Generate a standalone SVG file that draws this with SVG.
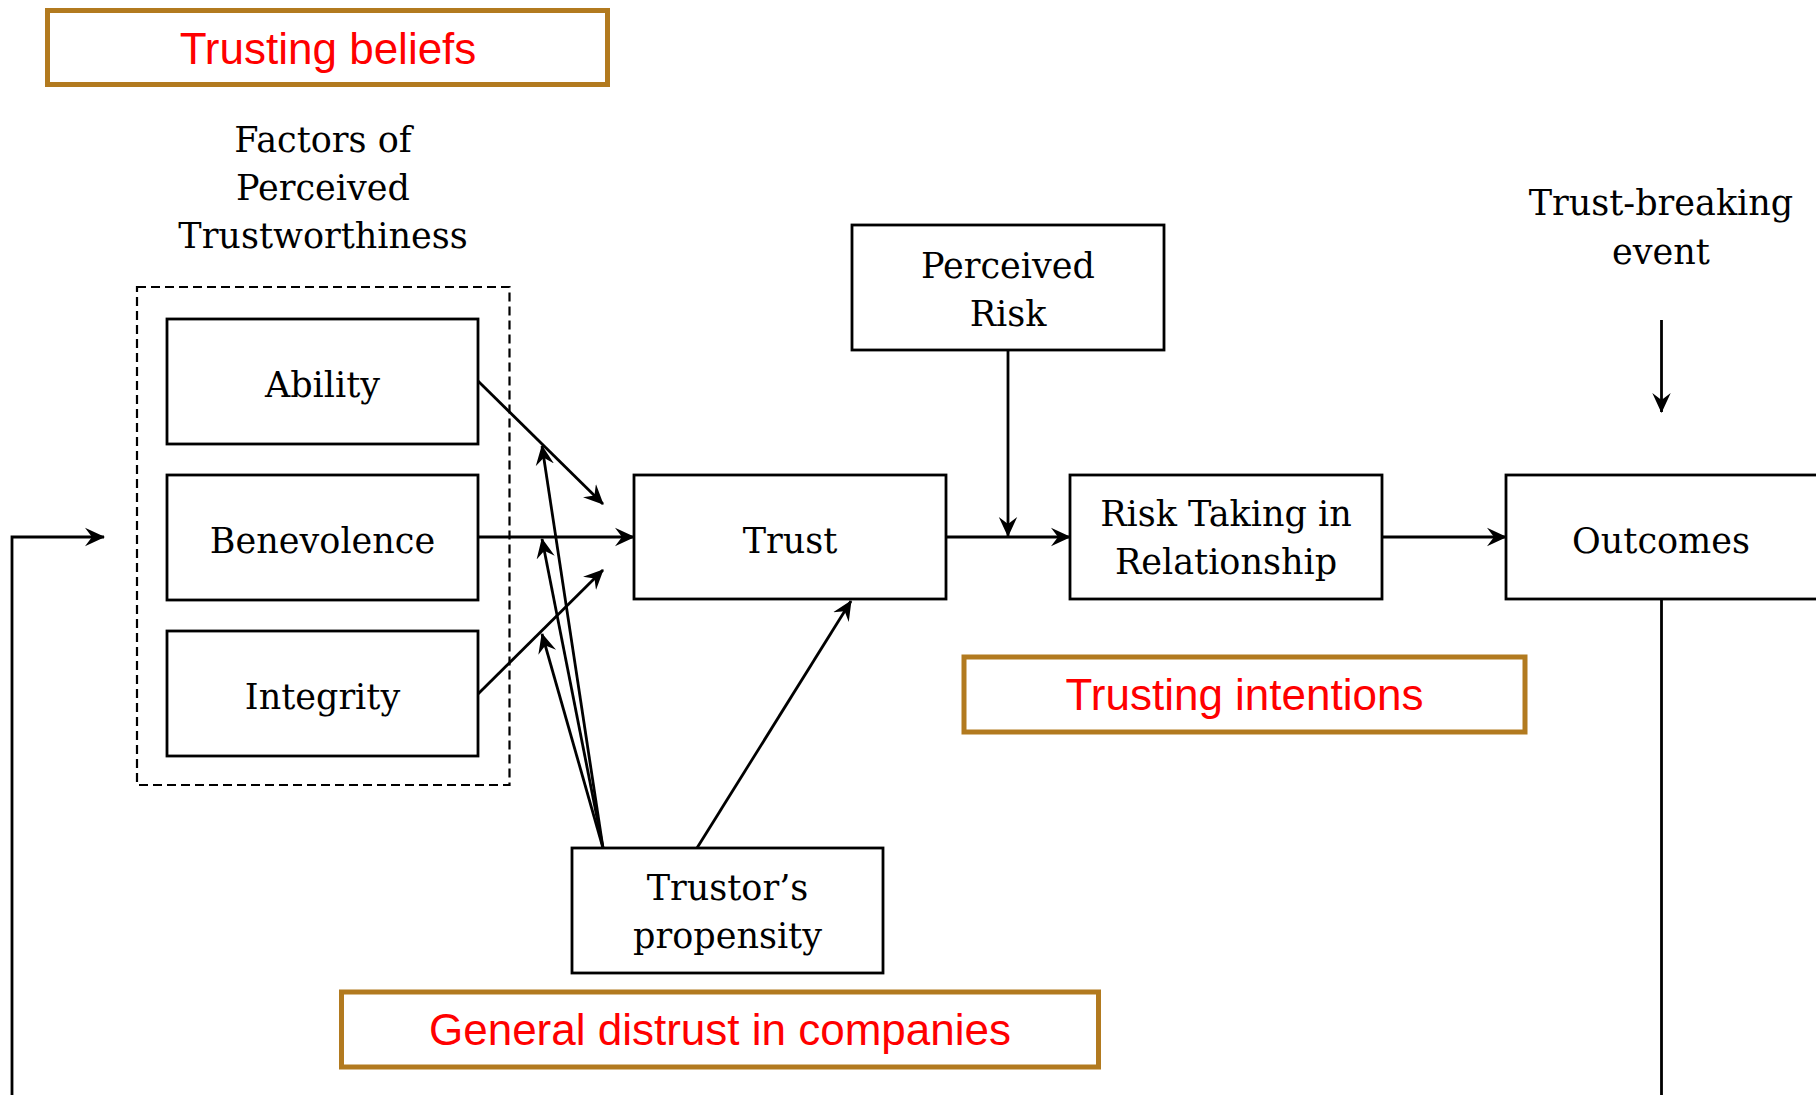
<svg xmlns="http://www.w3.org/2000/svg" width="1816" height="1095" viewBox="0 0 1816 1095">
<style>
.box{fill:#fff;stroke:#000;stroke-width:2.8}
.lbl{font-family:"DejaVu Serif","Liberation Serif",serif;font-size:35px;fill:#000;text-anchor:middle}
.rbox{fill:#fff;stroke:#B27A1F;stroke-width:5}
.rlbl{font-family:"Liberation Sans",Arial,sans-serif;font-size:44px;fill:#FF0000;text-anchor:middle}
.con{fill:none;stroke:#000;stroke-width:2.8}
</style>
<defs>
<marker id="ah" markerUnits="userSpaceOnUse" viewBox="0 0 20 20" refX="19" refY="10" markerWidth="20" markerHeight="20" orient="auto">
<path d="M0,0.8 L20,10 L0,19.2 L7,10 z" fill="#000"/>
</marker>
</defs>
<rect width="1816" height="1095" fill="#fff"/>

<g id="trusting-beliefs">
<rect class="rbox" x="47.5" y="10.5" width="560" height="74"/>
<text class="rlbl" x="328" y="64">Trusting beliefs</text>
</g>

<g id="factors-title">
<text class="lbl" x="323" y="152">Factors of</text>
<text class="lbl" x="323" y="200">Perceived</text>
<text class="lbl" x="323" y="248">Trustworthiness</text>
</g>

<g id="factors-group">
<rect x="137" y="287" width="372.5" height="498" fill="none" stroke="#000" stroke-width="2.2" stroke-dasharray="9 5"/>
</g>

<g id="ability">
<rect class="box" x="167" y="319" width="311" height="125"/>
<text class="lbl" x="322.5" y="396.5">Ability</text>
</g>
<g id="benevolence">
<rect class="box" x="167" y="475" width="311" height="125"/>
<text class="lbl" x="322.5" y="552.5">Benevolence</text>
</g>
<g id="integrity">
<rect class="box" x="167" y="631" width="311" height="125"/>
<text class="lbl" x="322.5" y="708.5">Integrity</text>
</g>

<g id="trust">
<rect class="box" x="634" y="475" width="312" height="124"/>
<text class="lbl" x="790" y="552.5">Trust</text>
</g>

<g id="perceived-risk">
<rect class="box" x="852" y="225" width="312" height="125"/>
<text class="lbl" x="1008" y="278">Perceived</text>
<text class="lbl" x="1008" y="326">Risk</text>
</g>

<g id="risk-taking">
<rect class="box" x="1070" y="475" width="312" height="124"/>
<text class="lbl" x="1226" y="526">Risk Taking in</text>
<text class="lbl" x="1226" y="574">Relationship</text>
</g>

<g id="outcomes">
<rect class="box" x="1506" y="475" width="312" height="124"/>
<text class="lbl" x="1661" y="552.5">Outcomes</text>
</g>

<g id="trust-breaking-event">
<text class="lbl" x="1661" y="215">Trust-breaking</text>
<text class="lbl" x="1661" y="264">event</text>
</g>

<g id="trustors-propensity">
<rect class="box" x="572" y="848" width="311" height="125"/>
<text class="lbl" x="727.5" y="900">Trustor’s</text>
<text class="lbl" x="727.5" y="948">propensity</text>
</g>

<g id="trusting-intentions">
<rect class="rbox" x="964" y="657" width="561" height="75"/>
<text class="rlbl" x="1244.5" y="710">Trusting intentions</text>
</g>

<g id="general-distrust">
<rect class="rbox" x="341.5" y="992" width="757" height="75"/>
<text class="rlbl" x="720" y="1045">General distrust in companies</text>
</g>

<g id="connectors">
<path class="con" d="M478,381 L603,504" marker-end="url(#ah)"/>
<path class="con" d="M478,537 L634,537" marker-end="url(#ah)"/>
<path class="con" d="M478,694 L603,570" marker-end="url(#ah)"/>
<path class="con" d="M603,848 L542,446" marker-end="url(#ah)"/>
<path class="con" d="M603,848 L542,539" marker-end="url(#ah)"/>
<path class="con" d="M603,848 L542,634" marker-end="url(#ah)"/>
<path class="con" d="M697,848 L851,601" marker-end="url(#ah)"/>
<path class="con" d="M946,537 L1070,537" marker-end="url(#ah)"/>
<path class="con" d="M1008,350 L1008,536" marker-end="url(#ah)"/>
<path class="con" d="M1382,537 L1506,537" marker-end="url(#ah)"/>
<path class="con" d="M1661.5,320 L1661.5,412" marker-end="url(#ah)"/>
<path class="con" d="M1661.5,599 L1661.5,1110 L12,1110 L12,537 L104,537" marker-end="url(#ah)"/>
</g>
</svg>
